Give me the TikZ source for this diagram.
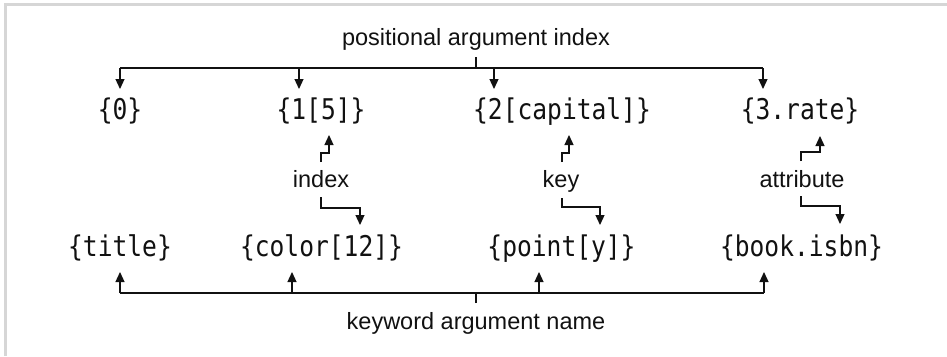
\documentclass[tikz,border=0pt]{standalone}
\usepackage{fontspec}
\usepackage{graphicx}
\setmainfont{Liberation Sans}
\setmonofont{DejaVu Sans Mono}
\usetikzlibrary{arrows.meta}
\definecolor{framegray}{HTML}{D6D6D6}
\definecolor{ink}{HTML}{111111}
\newcommand\tallcode[1]{\scalebox{1}[1.16]{#1}}
\tikzset{
  code/.style={inner sep=0pt, anchor=base, text=ink, font=\fontsize{24.6}{29}\ttfamily},
  lbl/.style={inner sep=0pt, anchor=base, text=ink, font=\fontsize{23.5}{28}\selectfont},
  arr/.style={draw=ink, line width=1.2pt, -{Triangle[length=10pt,width=9pt]}},
  plain/.style={draw=ink, line width=1.2pt}
}
\begin{document}
\begin{tikzpicture}[x=1pt,y=-1pt]
\useasboundingbox (0,0) rectangle (947,356);
% frame
\fill[framegray] (4,3) rectangle (947,6);
\fill[framegray] (4,3) rectangle (6.5,356);

% labels
\node[lbl] (pos) at (476,45) {positional argument index};
\node[lbl] (kw) at (476,329) {keyword argument name};
\node[lbl] (idx) at (321,187) {index};
\node[lbl] (key) at (561,187) {key};
\node[lbl] (att) at (802,187) {attribute};

% code row 1
\node[code] (c0) at (120,119) {\tallcode{\{0\}}};
\node[code] (c1) at (321,119) {\tallcode{\{1[5]\}}};
\node[code] (c2) at (562,119) {\tallcode{\{2[capital]\}}};
\node[code] (c3) at (800,119) {\tallcode{\{3.rate\}}};
% code row 2
\node[code] (d0) at (120,256) {\tallcode{\{title\}}};
\node[code] (d1) at (321.5,256) {\tallcode{\{color[12]\}}};
\node[code] (d2) at (561.5,256) {\tallcode{\{point[y]\}}};
\node[code] (d3) at (801.5,256) {\tallcode{\{book.isbn\}}};

% coordinates
\coordinate (ps) at (476,57);
\coordinate (pb) at (476,68);
\coordinate (t0) at (120,89);
\coordinate (t1) at (299,89);
\coordinate (t2) at (494,89);
\coordinate (t3) at (763,89);

\coordinate (ks) at (476,303);
\coordinate (kb) at (476,293);
\coordinate (b0) at (120,272);
\coordinate (b1) at (292,272);
\coordinate (b2) at (539,272);
\coordinate (b3) at (764,272);

\coordinate (iu) at (321,162);
\coordinate (iut) at (329,135);
\coordinate (id) at (321,197);
\coordinate (idt) at (360,225);
\coordinate (ku) at (562,162);
\coordinate (kut) at (569,135);
\coordinate (kd) at (562,198);
\coordinate (kdt) at (600,225);
\coordinate (au) at (801,161);
\coordinate (aut) at (820,136);
\coordinate (ad) at (801,196);
\coordinate (adt) at (840,224);

% positional bus
\draw[plain] (ps) -- (pb);
\draw[plain] (t0 |- pb) -- (t3 |- pb);
\foreach \t in {t0,t1,t2,t3} \draw[arr] (\t |- pb) -- (\t);

% keyword bus
\draw[plain] (ks) -- (kb);
\draw[plain] (b0 |- kb) -- (b3 |- kb);
\foreach \t in {b0,b1,b2,b3} \draw[arr] (\t |- kb) -- (\t);

% middle connectors
\draw[arr] (iu) -- ++(0,-9) -| (iut);
\draw[arr] (id) -- ++(0,11) -| (idt);
\draw[arr] (ku) -- ++(0,-9) -| (kut);
\draw[arr] (kd) -- ++(0,9) -| (kdt);
\draw[arr] (au) -- ++(0,-9) -| (aut);
\draw[arr] (ad) -- ++(0,10) -| (adt);
\end{tikzpicture}
\end{document}
